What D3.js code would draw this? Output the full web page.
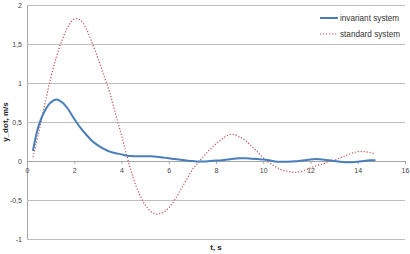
<!DOCTYPE html>
<html lang="en">
<head>
    <meta charset="UTF-8">
    <title>y_dot</title>
    <script src="https://cdnjs.cloudflare.com/ajax/libs/d3/7.8.5/d3.min.js"></script>
    <style>
        body { margin: 0; background: #fff; }
        text { font-family: "Liberation Sans", Arial, sans-serif; }
        .tick text { font-size: 7px; fill: #444; }
        .title { font-size: 8px; font-weight: bold; fill: #222; }
        .legend text { font-size: 8.2px; fill: #333; }
    </style>
</head>
<body>
<script>
    // time, s
    var t = [0.25, 0.5, 0.75, 1.0, 1.25, 1.5, 1.75, 2.0, 2.25, 2.5, 2.75, 3.0, 3.25, 3.5, 3.75,
             4.0, 4.25, 4.5, 4.75, 5.0, 5.25, 5.5, 5.75, 6.0, 6.25, 6.5, 6.75, 7.0, 7.25, 7.5,
             7.75, 8.0, 8.25, 8.5, 8.75, 9.0, 9.25, 9.5, 9.75, 10.0, 10.25, 10.5, 10.75, 11.0,
             11.25, 11.5, 11.75, 12.0, 12.25, 12.5, 12.75, 13.0, 13.25, 13.5, 13.75, 14.0,
             14.25, 14.5, 14.75];

    // invariant system
    var invariant = [0.13, 0.46, 0.64, 0.75, 0.79, 0.75, 0.66, 0.54, 0.43, 0.34, 0.26, 0.2, 0.155, 0.12, 0.1,
                     0.085, 0.068, 0.062, 0.06, 0.06, 0.06, 0.055, 0.045, 0.035, 0.025, 0.015, 0.005, 0.0, -0.005, -0.005,
                     0.0, 0.005, 0.01, 0.02, 0.03, 0.035, 0.035, 0.03, 0.025, 0.02, 0.01, -0.005, -0.01, -0.01,
                     -0.005, 0.0, 0.01, 0.02, 0.025, 0.02, 0.01, 0.0, -0.01, -0.015, -0.015, -0.01,
                     0.0, 0.01, 0.01];

    // standard system
    var standard = [0.05, 0.37, 0.72, 1.06, 1.34, 1.56, 1.73, 1.82, 1.81, 1.7, 1.52, 1.32, 1.1, 0.88, 0.6,
                    0.33, 0.04, -0.22, -0.42, -0.56, -0.65, -0.68, -0.66, -0.6, -0.5, -0.37, -0.24, -0.11, -0.02, 0.07,
                    0.15, 0.22, 0.28, 0.33, 0.34, 0.31, 0.26, 0.19, 0.12, 0.04, -0.02, -0.07, -0.11, -0.13,
                    -0.145, -0.14, -0.12, -0.09, -0.06, -0.04, -0.01, 0.01, 0.04, 0.07, 0.1, 0.12,
                    0.12, 0.11, 0.09];

    var xTicks = [0, 2, 4, 6, 8, 10, 12, 14, 16];
    var yTicks = [-1, -0.5, 0, 0.5, 1, 1.5, 2];

    var width = 410, height = 254;
    var margin = {top: 5, right: 5, bottom: 15, left: 27};

    var svg = d3.select("body").append("svg")
        .attr("width", width)
        .attr("height", height);

    var x = d3.scaleLinear().domain([0, 16]).range([margin.left, width - margin.right]);
    var y = d3.scaleLinear().domain([-1, 2]).range([239, margin.top]);

    var fmt = function(d) { return String(d).replace(".", ","); };

    // horizontal gridlines + y labels
    var yAxis = svg.append("g")
        .attr("transform", "translate(" + margin.left + ",0)")
        .call(d3.axisLeft(y).tickValues(yTicks).tickFormat(fmt)
            .tickSize(-(width - margin.right - margin.left)).tickPadding(5));
    yAxis.select(".domain").attr("stroke", "#a6a6a6");
    yAxis.selectAll(".tick line").attr("stroke", "#bfbfbf");
    yAxis.selectAll(".tick text").attr("dy", "0.32em");

    // x axis through y = 0
    var xAxis = svg.append("g")
        .attr("transform", "translate(0," + y(0) + ")")
        .call(d3.axisBottom(x).tickValues(xTicks).tickSize(3).tickPadding(4));
    xAxis.select(".domain").attr("stroke", "#a6a6a6");
    xAxis.selectAll(".tick line").attr("stroke", "#a6a6a6");

    // lines
    var line = d3.line()
        .x(function(d) { return x(d[0]); })
        .y(function(d) { return y(d[1]); })
        .curve(d3.curveCatmullRom);

    svg.append("path")
        .datum(d3.zip(t, standard))
        .attr("fill", "none")
        .attr("stroke", "#c0504d")
        .attr("stroke-width", 1.2)
        .attr("stroke-dasharray", "1.2,1.8")
        .attr("d", line);

    svg.append("path")
        .datum(d3.zip(t, invariant))
        .attr("fill", "none")
        .attr("stroke", "#4a7ebb")
        .attr("stroke-width", 2)
        .attr("d", line);

    // axis titles
    svg.append("text")
        .attr("class", "title")
        .attr("x", x(8))
        .attr("y", 250)
        .attr("text-anchor", "middle")
        .text("t, s");

    svg.append("text")
        .attr("class", "title")
        .attr("transform", "translate(8,122) rotate(-90)")
        .attr("text-anchor", "middle")
        .text("y_dot, m/s");

    // legend
    var legend = svg.append("g").attr("class", "legend");
    var items = [
        {name: "invariant system", color: "#4a7ebb", dash: null, w: 2},
        {name: "standard system", color: "#c0504d", dash: "1.2,1.8", w: 1.2}
    ];
    items.forEach(function(it, i) {
        var yy = 18 + i * 16;
        legend.append("line")
            .attr("x1", 320).attr("x2", 338)
            .attr("y1", yy).attr("y2", yy)
            .attr("stroke", it.color)
            .attr("stroke-width", it.w)
            .attr("stroke-dasharray", it.dash);
        legend.append("text")
            .attr("x", 340)
            .attr("y", yy)
            .attr("dy", "0.35em")
            .text(it.name);
    });
</script>
</body>
</html>
